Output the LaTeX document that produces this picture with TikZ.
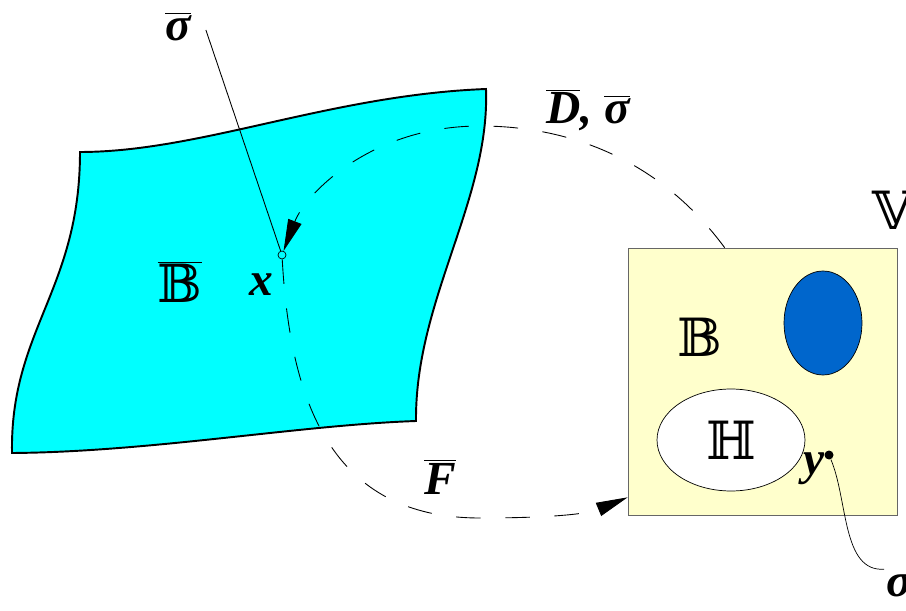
\documentclass[tikz,border=0pt]{standalone}
\usepackage{fontspec}
\setmainfont{Liberation Serif}
\newfontfamily\dstruck{DejaVu Serif}
\usetikzlibrary{arrows.meta,positioning,shapes.geometric,calc}
\definecolor{body}{RGB}{0,255,255}
\definecolor{space}{RGB}{255,255,204}
\definecolor{blob}{RGB}{0,102,204}

\begin{document}
\begin{tikzpicture}[
  x=0.02cm, y=-0.02cm,
  every node/.style={inner sep=1pt},
  lbl/.style={font=\fontsize{27}{31}\selectfont\bfseries\itshape},
  bbl/.style={font=\fontsize{30}{34}\selectfont\dstruck},
  flow/.style={dash pattern=on 14pt off 14pt, line width=0.5pt},
  >={Triangle[length=18pt,width=8pt]}
]
\useasboundingbox (0,0) rectangle (906,611);

% reference body
\filldraw[fill=body, line width=1.1pt] (80,152)
  .. controls (200,152) and (330,95) .. (486,89)
  .. controls (490,200) and (415,300) .. (416,421)
  .. controls (300,425) and (150,452) .. (12,453)
  .. controls (10,330) and (80,290) .. (80,152) -- cycle;

\node[bbl] (Bbar) at (180,282) {$\overline{\mbox{𝔹}}$};
\node[lbl] (xlab) at (261,285) {x};
\node[circle, draw, inner sep=0pt, minimum size=0.16cm, line width=0.4pt] (xpt) at (282,255) {};
\node[lbl] (sigbar) at (178,27) {$\overline{\mbox{σ}}$};

% current configuration
\node[draw=black!60, fill=space, minimum width=5.38cm, minimum height=5.34cm] (Vbox) at (762.5,381.5) {};
\node[ellipse, draw, fill=blob, minimum width=1.56cm, minimum height=2.08cm, inner sep=0pt] (hole) at (823,323) {};
\node[ellipse, draw, fill=white, minimum width=2.96cm, minimum height=2.04cm, inner sep=0pt, bbl] (Hset) at (731,440) {ℍ};
\node[bbl] (Bset) at (700,337) {𝔹};
\node[bbl] (Vlab) at (893,210) {𝕍};
\node[circle, fill, inner sep=0pt, minimum size=0.18cm] (ypt) at (829,455) {};
\node[lbl] (ylab) at (814,469) {y};
\node[lbl, anchor=west] (sigy) at (884,590) {$\mbox{σ}_{y}$};

% maps
\node[lbl] (Dlab) at (588,110) {$\overline{\mbox{D}}$, $\overline{\mbox{σ}}$};
\node[lbl] (Flab) at (440,477) {$\overline{\mbox{F}}$};

\draw[line width=0.5pt] (sigbar.east) ++(13,3) -- (xpt);
\draw[flow, ->] ([xshift=1.94cm]Vbox.north west)
  .. controls (660,160) and (570,126) .. (480,126)
  .. controls (370,126) and (305,195) .. (xpt);
\draw[flow, ->] (xpt)
  .. controls (290,400) and (330,518) .. (480,518)
  .. controls (540,518) and (585,515) .. ([yshift=0.36cm]Vbox.south west);
\draw[line width=0.4pt] (ypt) .. controls (848,500) and (842,572) .. (sigy.north west);

\end{tikzpicture}
\end{document}
